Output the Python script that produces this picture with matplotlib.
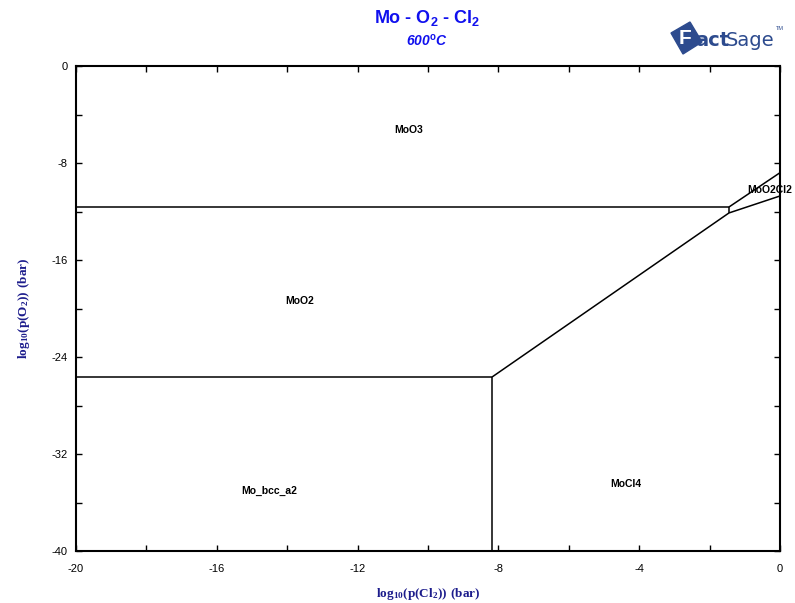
import matplotlib
matplotlib.use("Agg")
import matplotlib.pyplot as plt
from matplotlib.patches import Polygon

plt.rcParams["mathtext.fontset"] = "custom"
plt.rcParams["mathtext.rm"] = "Liberation Serif"
plt.rcParams["mathtext.bf"] = "Liberation Serif:bold"
plt.rcParams["mathtext.sf"] = "Liberation Sans:bold"
plt.rcParams["axes.unicode_minus"] = False

# Phase boundary vertices: log10 p(Cl2), log10 p(O2)
x_mo_moo2 = [-20.0, -8.18]
y_mo_moo2 = [-25.65, -25.65]

x_mo_mocl4 = [-8.18, -8.18]
y_mo_mocl4 = [-25.65, -40.0]

x_moo2_mocl4 = [-8.18, -1.45]
y_moo2_mocl4 = [-25.65, -12.12]

x_moo2_moo3 = [-20.0, -1.45]
y_moo2_moo3 = [-11.63, -11.63]

x_moo2_moo2cl2 = [-1.45, -1.45]
y_moo2_moo2cl2 = [-11.63, -12.12]

x_moo3_moo2cl2 = [-1.45, 0.0]
y_moo3_moo2cl2 = [-11.63, -8.80]

x_moo2cl2_mocl4 = [-1.45, 0.0]
y_moo2cl2_mocl4 = [-12.12, -10.72]

# Phase field labels
phase_names = ["MoO3", "MoO2", "Mo_bcc_a2", "MoCl4", "MoO2Cl2"]
phase_x = [-10.54, -13.64, -14.52, -4.37, -0.28]
phase_y = [-5.28, -19.38, -35.05, -34.47, -10.23]

x_ticks = [-20, -16, -12, -8, -4, 0]
y_ticks = [0, -8, -16, -24, -32, -40]

fig = plt.figure(figsize=(7.95, 6.03), dpi=100)
ax = fig.add_axes([76 / 795, 1 - 551 / 603, (780 - 76) / 795, (551 - 66) / 603])

boundaries = [
    (x_mo_moo2, y_mo_moo2),
    (x_mo_mocl4, y_mo_mocl4),
    (x_moo2_mocl4, y_moo2_mocl4),
    (x_moo2_moo3, y_moo2_moo3),
    (x_moo2_moo2cl2, y_moo2_moo2cl2),
    (x_moo3_moo2cl2, y_moo3_moo2cl2),
    (x_moo2cl2_mocl4, y_moo2cl2_mocl4),
]
for bx, by in boundaries:
    ax.plot(bx, by, color="black", lw=1.1, solid_capstyle="butt", clip_on=False)

for name, px, py in zip(phase_names, phase_x, phase_y):
    ax.text(px, py, name, ha="center", va="center", fontsize=7.5,
            fontweight="bold", family="Liberation Sans", clip_on=False)

ax.set_xlim(-20, 0)
ax.set_ylim(-40, 0)
ax.set_xticks(x_ticks)
ax.set_yticks(y_ticks)
ax.set_xticks([-18, -14, -10, -6, -2], minor=True)
ax.set_yticks([-4, -12, -20, -28, -36], minor=True)
ax.tick_params(which="both", direction="in", top=True, right=True,
               length=4, width=1.0, labelsize=8)
ax.tick_params(axis="x", pad=9)
ax.tick_params(axis="y", pad=6)
for lab in ax.get_xticklabels() + ax.get_yticklabels():
    lab.set_family("Liberation Sans")
for sp in ax.spines.values():
    sp.set_linewidth(1.5)

navy = "#1c1c8c"
ax.set_xlabel(r"$\mathbf{log_{10}(p(Cl_2))\ (bar)}$", color=navy, fontsize=9.5,
              labelpad=9)
ax.set_ylabel(r"$\mathbf{log_{10}(p(O_2))\ (bar)}$", color=navy, fontsize=9.5,
              labelpad=14)

blue = "#1010ee"
fig.text(427 / 795, 1 - 18 / 603, r"Mo - O$_\mathsf{2}$ - Cl$_\mathsf{2}$",
         ha="center", va="center", fontsize=13, fontweight="bold",
         color=blue, family="Liberation Sans")
fig.text(427 / 795, 1 - 41 / 603, r"600$^{\mathsf{o}}$C", ha="center",
         va="center", fontsize=10, fontweight="bold", style="italic",
         color=blue, family="Liberation Sans")

# FactSage mark
logo = "#2d4b8e"
sq = Polygon([(671 / 795, 1 - 33 / 603), (690 / 795, 1 - 22 / 603),
              (702 / 795, 1 - 42 / 603), (683 / 795, 1 - 54 / 603)],
             closed=True, transform=fig.transFigure, color=logo)
fig.patches.append(sq)
fig.text(679 / 795, 1 - 39 / 603, "F", ha="left", va="center", fontsize=15,
         fontweight="bold", color="white", family="Liberation Sans")
fig.text(695 / 795, 1 - 40 / 603, "act", ha="left", va="center", fontsize=14,
         fontweight="bold", color=logo, family="Liberation Sans Narrow")
fig.text(726 / 795, 1 - 40 / 603, "Sage", ha="left", va="center", fontsize=14,
         color=logo, family="Liberation Sans Narrow")
fig.text(776 / 795, 1 - 29 / 603, "TM", ha="left", va="center", fontsize=4,
         color=logo, family="Liberation Sans")

fig.savefig("out.png", dpi=100)
